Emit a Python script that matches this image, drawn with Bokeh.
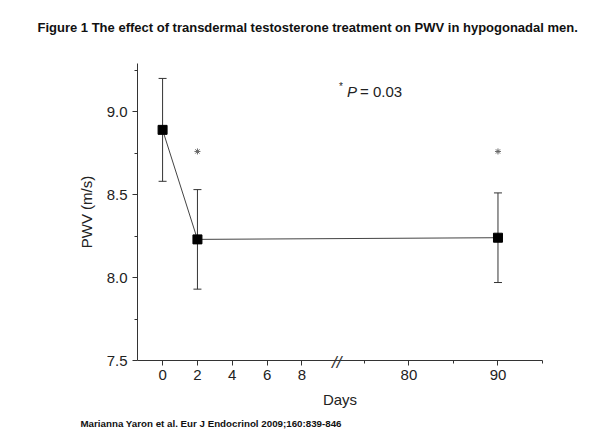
from bokeh.plotting import figure
from bokeh.models import (Range1d, FixedTicker, CustomJSTickFormatter, Label, Title,
                          Whisker, TeeHead, ColumnDataSource, LinearAxis)
from bokeh.embed import file_html
from bokeh.resources import INLINE

# ---- data ----
days = [0, 2, 90]
pwv = [8.89, 8.23, 8.24]
sem = [0.31, 0.30, 0.27]
star_days = [2, 90]
star_level = [8.76, 8.76]
x_major_ticks = [0, 2, 4, 6, 8, 80, 90]
x_major_labels = ["0", "2", "4", "6", "8", "80", "90"]
x_minor_ticks = [75, 85, 95]
y_major_ticks = [7.5, 8.0, 8.5, 9.0]
y_minor_ticks = [7.75, 8.25, 8.75, 9.25]

# broken x axis: segment 1 [-1.44, 10.0], segment 2 starts at day 71.9 (compressed)
SEG1_END = 10.0
SEG2_START = 71.9
SEG2_SCALE = 0.511
X_LEFT = -1.44
X_RIGHT_DAY = 95.0


def disp(d):
    return d if d <= SEG1_END else SEG1_END + (d - SEG2_START) * SEG2_SCALE


W, H = 600, 433
BL, BR, BT, BB = 137, 58, 63, 72
x_end = disp(X_RIGHT_DAY)
y_lo, y_hi = 7.5, 9.29

p = figure(width=W, height=H, x_range=Range1d(X_LEFT, x_end), y_range=Range1d(y_lo, y_hi),
           output_backend="svg", toolbar_location=None, title_location=None,
           min_border_left=BL, min_border_right=BR, min_border_top=BT, min_border_bottom=BB)
p.outline_line_color = None
p.xgrid.visible = False
p.ygrid.visible = False
p.background_fill_color = "white"
p.border_fill_color = "white"

FONT = "Liberation Sans"
AX = "#333333"
TXT = "#222222"

fw = W - BL - BR
fh = H - BT - BB


def px_x(px):  # page px -> data x
    return X_LEFT + (px - BL) / fw * (x_end - X_LEFT)


def px_y(py):  # page px -> data y
    return y_lo + (H - BB - py) / fh * (y_hi - y_lo)


# title: an empty spacer next to the frame, then the real title further up
p.add_layout(Title(text=" ", text_font=FONT, text_font_size="13px", standoff=6.5), "above")
p.add_layout(Title(text="Figure 1 The effect of transdermal testosterone treatment on PWV in hypogonadal men.",
                   align="left", offset=37 - BL, standoff=10, text_font=FONT,
                   text_font_size="13px", text_font_style="bold", text_color="#111111"), "above")

# axes
tick_pos = [disp(d) for d in x_major_ticks]
p.xaxis.ticker = FixedTicker(ticks=tick_pos, minor_ticks=[disp(d) for d in x_minor_ticks])
p.xaxis.formatter = CustomJSTickFormatter(args=dict(pos=tick_pos, lab=x_major_labels), code="""
let best = 0, bd = Infinity;
for (let i = 0; i < pos.length; i++) { const d = Math.abs(pos[i] - tick); if (d < bd) { bd = d; best = i; } }
return lab[best];
""")
p.yaxis.ticker = FixedTicker(ticks=y_major_ticks, minor_ticks=y_minor_ticks)
p.yaxis.formatter = CustomJSTickFormatter(code="return tick.toFixed(1);")

for ax in (p.xaxis[0], p.yaxis[0]):
    ax.axis_line_color = AX
    ax.major_tick_line_color = AX
    ax.minor_tick_line_color = AX
    ax.major_tick_out = 5
    ax.major_tick_in = 0
    ax.minor_tick_out = 3
    ax.minor_tick_in = 0
    ax.major_label_text_font = FONT
    ax.major_label_text_font_size = "15px"
    ax.major_label_text_color = TXT
    ax.axis_label_text_font = FONT
    ax.axis_label_text_font_size = "15px"
    ax.axis_label_text_font_style = "normal"
    ax.axis_label_text_color = TXT

p.xaxis.axis_label = "Days"
p.xaxis.major_label_standoff = 4
p.xaxis.axis_label_standoff = 8
p.yaxis.axis_label = "PWV (m/s)"
p.yaxis.major_label_standoff = 5
p.yaxis.axis_label_standoff = 9

# citation line
cap = Title(text="Marianna Yaron et al. Eur J Endocrinol 2009;160:839-846", align="left",
            offset=80 - BL, text_font=FONT, text_font_size="9.75px", text_font_style="bold",
            text_color="#111111")
p.add_layout(cap, "below")

# axis-break mark "//" drawn as a tick label of a bare second axis, pulled up onto the axis line
brk = LinearAxis(ticker=FixedTicker(ticks=[disp(SEG1_END)], minor_ticks=[]),
                 formatter=CustomJSTickFormatter(code='return "//";'),
                 axis_line_color=None, major_tick_line_color=None, minor_tick_line_color=None,
                 major_tick_out=0, major_tick_in=0, minor_tick_out=0, minor_tick_in=0,
                 major_label_standoff=-81, major_label_text_font=FONT,
                 major_label_text_font_size="17px", major_label_text_font_style="italic",
                 major_label_text_color=AX)
p.add_layout(brk, "below")

# data
xd = [disp(d) for d in days]
src = ColumnDataSource(dict(x=xd, y=pwv,
                            lo=[v - e for v, e in zip(pwv, sem)],
                            hi=[v + e for v, e in zip(pwv, sem)]))
p.line("x", "y", source=src, line_color="#444444", line_width=1)
p.add_layout(Whisker(source=src, base="x", upper="hi", lower="lo", line_color="#333333",
                     line_width=1,
                     upper_head=TeeHead(size=8, line_color="#333333", line_width=1),
                     lower_head=TeeHead(size=8, line_color="#333333", line_width=1)))
p.scatter("x", "y", source=src, marker="square", size=9, fill_color="black", line_color="black")

p.scatter([disp(d) for d in star_days], star_level, marker="asterisk", size=6,
          line_color="#666666", line_width=1)

# P-value annotation
py_p = px_y(91)
p.add_layout(Label(x=px_x(338.5), y=px_y(86), text="*", text_font=FONT, text_font_size="10px",
                   text_baseline="middle", text_color=TXT))
p.add_layout(Label(x=px_x(346.5), y=py_p, text="P", text_font=FONT, text_font_size="15px",
                   text_font_style="italic", text_baseline="middle", text_color=TXT))
p.add_layout(Label(x=px_x(359.5), y=py_p, text="= 0.03", text_font=FONT, text_font_size="15px",
                   text_baseline="middle", text_color=TXT))

open("out.html", "w").write(file_html(p, INLINE))
